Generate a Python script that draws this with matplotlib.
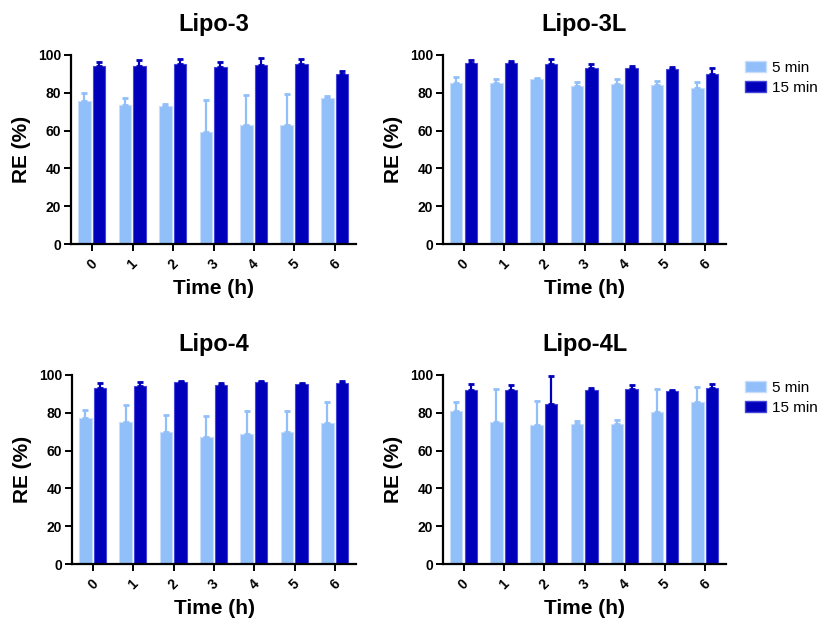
import matplotlib
matplotlib.use('Agg')
import matplotlib.pyplot as plt
from matplotlib.patches import Patch
import numpy as np

plt.rcParams['font.family'] = ['Liberation Sans', 'DejaVu Sans']

# Data (RE %, mean and upper SD)
hours = [0, 1, 2, 3, 4, 5, 6]
panels = ['Lipo-3', 'Lipo-3L', 'Lipo-4', 'Lipo-4L']

lipo3_5 = [75.6, 73.3, 73.1, 59.3, 62.7, 63.0, 77.3]
lipo3_5_sd = [4.4, 4.0, 1.1, 16.8, 16.1, 16.5, 1.1]
lipo3_15 = [94.2, 94.2, 95.4, 93.8, 94.5, 95.0, 89.7]
lipo3_15_sd = [2.1, 3.1, 2.7, 2.7, 3.7, 2.9, 1.8]

lipo3l_5 = [85.1, 85.1, 87.4, 83.4, 84.6, 84.1, 82.5]
lipo3l_5_sd = [3.2, 2.0, 0.6, 2.4, 2.7, 2.4, 3.2]
lipo3l_15 = [95.9, 95.8, 95.4, 92.9, 92.9, 92.6, 89.7]
lipo3l_15_sd = [1.4, 1.2, 2.5, 2.3, 1.4, 1.2, 3.6]

lipo4_5 = [77.5, 75.0, 69.7, 67.1, 69.0, 69.9, 74.7]
lipo4_5_sd = [4.1, 8.9, 8.9, 11.0, 12.1, 11.2, 11.1]
lipo4_15 = [93.3, 94.2, 96.3, 94.9, 96.5, 95.4, 95.9]
lipo4_15_sd = [2.3, 1.9, 0.5, 0.9, 0.1, 0.4, 0.7]

lipo4l_5 = [80.7, 75.2, 73.6, 74.3, 74.3, 80.5, 85.7]
lipo4l_5_sd = [4.8, 17.5, 12.8, 1.5, 1.8, 12.1, 7.8]
lipo4l_15 = [92.0, 92.0, 84.6, 92.0, 92.6, 91.3, 92.9]
lipo4l_15_sd = [3.0, 2.5, 15.0, 1.1, 2.1, 0.9, 2.3]

series_5 = [lipo3_5, lipo3l_5, lipo4_5, lipo4l_5]
sd_5 = [lipo3_5_sd, lipo3l_5_sd, lipo4_5_sd, lipo4l_5_sd]
series_15 = [lipo3_15, lipo3l_15, lipo4_15, lipo4l_15]
sd_15 = [lipo3_15_sd, lipo3l_15_sd, lipo4_15_sd, lipo4l_15_sd]

LIGHT = '#90BFF9'
DARK = '#0000BB'

fig = plt.figure(figsize=(8.24, 6.19), dpi=100, facecolor='white')

W, H = 824, 619
boxes = [(71, 55, 285, 189), (443, 55, 283, 189),
         (72, 375, 284, 189), (443, 375, 283, 189)]

x = np.array(hours)
bw = 0.31

for i, (l, t, w, h) in enumerate(boxes):
    ax = fig.add_axes([l / W, 1 - (t + h) / H, w / W, h / H])
    ax.bar(x - 0.19, series_5[i], bw, color=LIGHT, edgecolor='#c9defc',
           linewidth=0.8, yerr=[np.zeros(7), sd_5[i]], ecolor=LIGHT,
           error_kw=dict(elinewidth=1.6, capsize=2.5, capthick=2.0), zorder=2)
    ax.bar(x + 0.17, series_15[i], bw, color=DARK, edgecolor='#4646d8',
           linewidth=0.8, yerr=[np.zeros(7), sd_15[i]], ecolor=DARK,
           error_kw=dict(elinewidth=1.6, capsize=2.5, capthick=2.0), zorder=2)
    ax.set_xlim(-0.52, 6.52)
    ax.set_ylim(0, 100)
    ax.set_yticks([0, 20, 40, 60, 80, 100])
    ax.set_xticks(hours)
    ax.set_xticklabels([str(v) for v in hours], rotation=45,
                       fontsize=10, fontweight='bold')
    for lab in ax.get_yticklabels():
        lab.set_fontsize(10)
        lab.set_fontweight('bold')
    ax.spines['top'].set_visible(False)
    ax.spines['right'].set_visible(False)
    ax.spines['left'].set_linewidth(1.6)
    ax.spines['bottom'].set_linewidth(1.6)
    ax.tick_params(axis='both', length=5, width=1.4, direction='out', pad=2)
    ax.tick_params(axis='x', pad=4)
    ax.set_title(panels[i], fontsize=17, fontweight='bold', pad=17)
    ax.set_xlabel('Time (h)', fontsize=15, fontweight='bold', labelpad=5)
    ax.set_ylabel('RE (%)', fontsize=15, fontweight='bold', labelpad=5)
    ax.set_facecolor('white')

    if i in (1, 3):
        handles = [Patch(facecolor=LIGHT, edgecolor='#c9defc', label='5 min'),
                   Patch(facecolor=DARK, edgecolor='#4646d8', label='15 min')]
        ax.legend(handles=handles, loc='upper left', bbox_to_anchor=(1.045, 1.0),
                  frameon=False, fontsize=11, handlelength=1.4, handleheight=0.75,
                  handletextpad=0.35, labelspacing=0.38, borderaxespad=0)

fig.savefig('out.png', dpi=100, facecolor='white')
